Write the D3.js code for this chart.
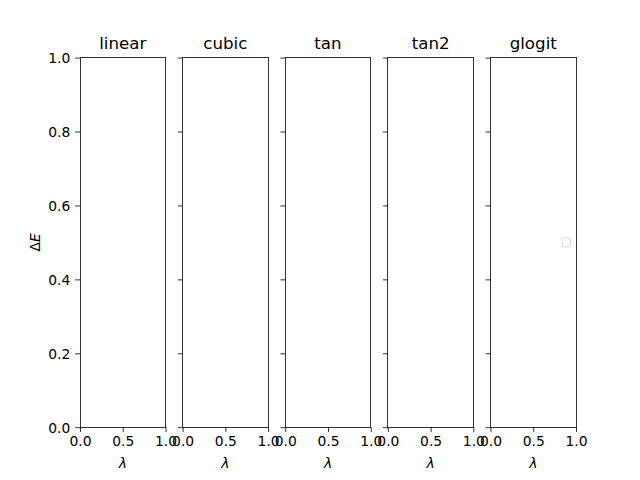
<!DOCTYPE html>
<html>
<head>
<meta charset="utf-8">
<script src="https://cdn.jsdelivr.net/npm/d3@7"></script>
<style>
  html, body { margin: 0; padding: 0; background: #fff; }
  svg { display: block; font-family: "DejaVu Sans", sans-serif; }
</style>
</head>
<body>
<svg id="chart" width="640" height="480"></svg>
<script>
// ---- data ----
const titles = ["linear", "cubic", "tan", "tan2", "glogit"];
const xTickValues = [0.0, 0.5, 1.0];
const yTickValues = [0.0, 0.2, 0.4, 0.6, 0.8, 1.0];
const xDomain = [0, 1];
const yDomain = [0, 1];
const xLabel = "λ";
const yLabelPrefix = "Δ";
const yLabelItalic = "E";

// ---- layout (matplotlib default subplot params) ----
const W = 640, H = 480;
const figLeft = 0.125 * W, figRight = 0.9 * W;
const figTop = (1 - 0.88) * H, figBottom = (1 - 0.11) * H;
const n = titles.length;
const wspace = 0.2;
const axW = (figRight - figLeft) / (n + (n - 1) * wspace);
const gap = axW * wspace;
const tickLen = 4.86;
const tickPad = 4.86;
const fs = 13.89;

const svg = d3.select("#chart");
svg.append("rect").attr("width", W).attr("height", H).attr("fill", "#fff");

const y = d3.scaleLinear().domain(yDomain).range([figBottom, figTop]);

titles.forEach((t, i) => {
  const x0 = figLeft + i * (axW + gap);
  const x = d3.scaleLinear().domain(xDomain).range([x0, x0 + axW]);
  const g = svg.append("g");

  // x axis
  const xAxis = d3.axisBottom(x).tickValues(xTickValues)
    .tickFormat(d3.format(".1f")).tickSizeInner(tickLen).tickSizeOuter(0).tickPadding(tickPad);
  const gx = g.append("g").attr("transform", `translate(0,${figBottom})`).call(xAxis);
  gx.select(".domain").remove();
  gx.selectAll(".tick line").attr("stroke", "#000").attr("stroke-width", 0.8);
  gx.selectAll(".tick text").attr("fill", "#000").attr("font-size", fs)
    .attr("font-family", "DejaVu Sans").attr("dy", "0.76em").attr("y", tickLen + tickPad - 1);

  // y axis
  const yAxis = d3.axisLeft(y).tickValues(yTickValues)
    .tickFormat(i === 0 ? d3.format(".1f") : () => "")
    .tickSizeInner(tickLen).tickSizeOuter(0).tickPadding(tickPad);
  const gy = g.append("g").attr("transform", `translate(${x0},0)`).call(yAxis);
  gy.select(".domain").remove();
  gy.selectAll(".tick line").attr("stroke", "#000").attr("stroke-width", 0.8);
  gy.selectAll(".tick text").attr("fill", "#000").attr("font-size", fs)
    .attr("font-family", "DejaVu Sans").attr("dy", "0.36em");

  // frame
  g.append("rect")
    .attr("x", x0).attr("y", figTop)
    .attr("width", axW).attr("height", figBottom - figTop)
    .attr("fill", "none").attr("stroke", "#000").attr("stroke-width", 0.8)
    .attr("shape-rendering", "crispEdges");

  // title
  g.append("text")
    .attr("x", x0 + axW / 2).attr("y", figTop - 8.33)
    .attr("text-anchor", "middle").attr("font-size", 16.67).attr("fill", "#000")
    .text(t);

  // x label
  g.append("text")
    .attr("x", x0 + axW / 2).attr("y", 468)
    .attr("text-anchor", "middle").attr("font-size", fs).attr("fill", "#000")
    .attr("font-style", "italic")
    .text(xLabel);

  // empty legend on last axes
  if (i === n - 1) {
    const lw = 8.5, lh = 9;
    g.append("rect")
      .attr("x", x0 + axW - 6.9 - lw + 1.5).attr("y", y(0.5) - lh / 2)
      .attr("width", lw).attr("height", lh).attr("rx", 1.8)
      .attr("fill", "#fff").attr("fill-opacity", 0.8)
      .attr("stroke", "#cccccc").attr("stroke-opacity", 0.8).attr("stroke-width", 1);
  }
});

// y label
const yl = svg.append("text")
  .attr("transform", `translate(40,${(figTop + figBottom) / 2}) rotate(-90)`)
  .attr("text-anchor", "middle").attr("font-size", fs).attr("fill", "#000");
yl.append("tspan").text(yLabelPrefix);
yl.append("tspan").attr("font-style", "italic").text(yLabelItalic);
</script>
</body>
</html>
